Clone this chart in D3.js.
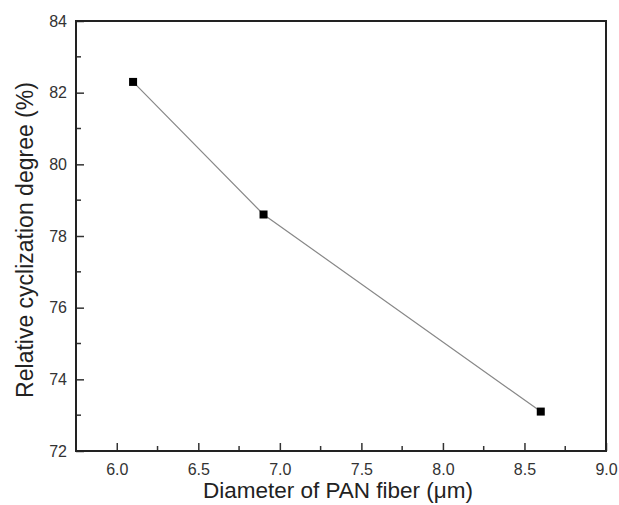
<!DOCTYPE html>
<html><head><meta charset="utf-8">
<script src="https://cdn.jsdelivr.net/npm/d3@7"></script>
<style>body{margin:0;background:#fff;font-family:"Liberation Sans",Arial,sans-serif}</style>
</head><body><svg id="c" width="619" height="505"></svg>
<script>
const diameters = [6.1, 6.9, 8.6];
const cyclization = [82.3, 78.6, 73.1];
const xTicks = [6.0, 6.5, 7.0, 7.5, 8.0, 8.5, 9.0];
const yTicks = [72, 74, 76, 78, 80, 82, 84];
const xLabel = "Diameter of PAN fiber (\u03bcm)";
const yLabel = "Relative cyclization degree (%)";

const svg = d3.select("#c");
const m = {l:76, r:606, t:21, b:451};
const x = d3.scaleLinear().domain([5.75, 9.0]).range([m.l, m.r]);
const y = d3.scaleLinear().domain([72, 84]).range([m.b, m.t]);

const xMinor = d3.range(6.25, 9.0, 0.5);
const yMinor = d3.range(73, 84, 2);
const g = svg.append("g");
g.selectAll(".xm").data(xMinor).enter().append("line")
  .attr("x1", d=>x(d)).attr("x2", d=>x(d)).attr("y1", m.b).attr("y2", m.b-5)
  .attr("stroke","#333").attr("stroke-width",1.5);
g.selectAll(".ym").data(yMinor).enter().append("line")
  .attr("y1", d=>y(d)).attr("y2", d=>y(d)).attr("x1", m.l).attr("x2", m.l+5)
  .attr("stroke","#333").attr("stroke-width",1.5);

const xAxis = d3.axisBottom(x).tickValues(xTicks).tickFormat(d3.format(".1f")).tickSizeInner(-8).tickSizeOuter(0).tickPadding(13);
const yAxis = d3.axisLeft(y).tickValues(yTicks).tickFormat(d3.format("d")).tickSizeInner(-8).tickSizeOuter(0).tickPadding(9);
const gx = svg.append("g").attr("transform",`translate(0,${m.b})`).call(xAxis);
const gy = svg.append("g").attr("transform",`translate(${m.l},0)`).call(yAxis);
[gx,gy].forEach(a=>{
  a.select(".domain").remove();
  a.selectAll(".tick line").attr("stroke","#333").attr("stroke-width",1.5);
  a.selectAll(".tick text").attr("fill","#333").style("font-size","16px").style("font-family","Liberation Sans, Arial, sans-serif");
});

svg.append("rect").attr("x",m.l).attr("y",m.t).attr("width",m.r-m.l).attr("height",m.b-m.t)
  .attr("fill","none").attr("stroke","#222").attr("stroke-width",2);

const data = diameters.map((d,i)=>({x:d, y:cyclization[i]}));
svg.append("path").datum(data)
  .attr("d", d3.line().x(d=>x(d.x)).y(d=>y(d.y)))
  .attr("fill","none").attr("stroke","#888").attr("stroke-width",1.2);
svg.selectAll(".pt").data(data).enter().append("rect")
  .attr("x", d=>x(d.x)-4).attr("y", d=>y(d.y)-4).attr("width",8).attr("height",8).attr("fill","#000");

svg.append("text").attr("x",338).attr("y",498).attr("text-anchor","middle")
  .style("font-size","22.5px").attr("fill","#222").text(xLabel);
svg.append("text").attr("transform",`translate(33,240) rotate(-90)`).attr("text-anchor","middle")
  .style("font-size","23px").attr("fill","#222").text(yLabel);
</script></body></html>
